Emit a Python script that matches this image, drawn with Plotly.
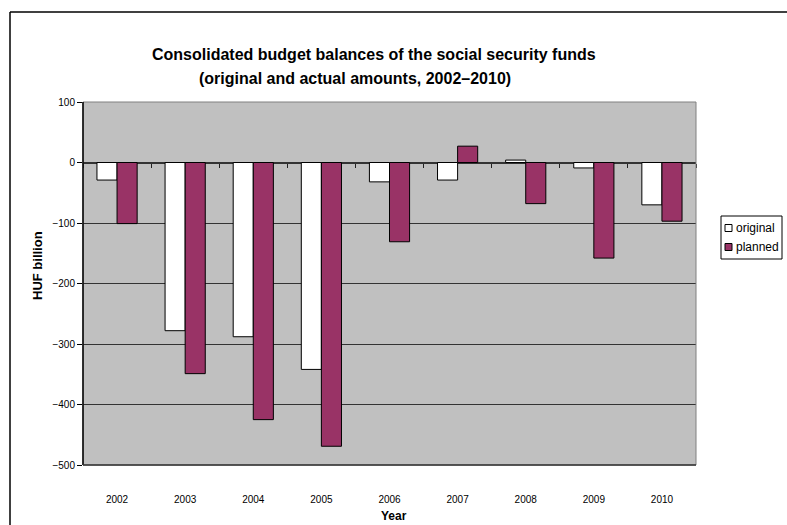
import plotly.graph_objects as go

years = ["2002", "2003", "2004", "2005", "2006", "2007", "2008", "2009", "2010"]
original = [-29, -278, -288, -342, -32, -29, 4, -9, -70]
planned = [-101, -349, -425, -469, -131, 27, -68, -158, -97]
y_ticks = [100, 0, -100, -200, -300, -400, -500]
series_names = ["original", "planned"]
series_fill = ["white", "#993366"]

W, H = 787, 525
# plot area in screen pixels: x 83..696, y 102..465
L, R, T, B = 83, W - 696, 102, H - 465
pw, ph = W - L - R, H - T - B


def px(x):  # pixel x -> paper
    return (x - L) / pw


def py(y):  # pixel y -> paper
    return 1 - (y - T) / ph


FONT = "Liberation Sans, Arial, sans-serif"

fig = go.Figure()
for name, vals, fill in zip(series_names, [original, planned], series_fill):
    fig.add_trace(go.Bar(
        x=years, y=vals, name=name, showlegend=False,
        marker=dict(color=fill, line=dict(color="black", width=1)),
    ))
# invisible helper trace so the zero-line tick axis is drawn
fig.add_trace(go.Scatter(x=years, y=[0] * len(years), xaxis="x2", mode="none",
                         showlegend=False, hoverinfo="skip"))

fig.update_layout(
    width=W, height=H,
    margin=dict(l=L, r=R, t=T, b=B, autoexpand=False),
    paper_bgcolor="white",
    plot_bgcolor="#C0C0C0",
    barmode="group",
    bargap=0.41,
    bargroupgap=0,
    font=dict(family=FONT, color="black", size=10),
    showlegend=False,
    xaxis=dict(
        type="category",
        showgrid=False,
        showline=False,
        ticks="", ticklabelstandoff=27,
        tickfont=dict(size=10, family=FONT),
    ),
    xaxis2=dict(
        type="category", matches="x", overlaying="x", anchor="free",
        position=500 / 600, side="bottom",
        showgrid=False, showline=False, showticklabels=False,
        ticks="outside", ticklen=4, tickcolor="#222222", tickwidth=1,
        tickson="boundaries",
    ),
    yaxis=dict(
        range=[-500, 100],
        tickvals=y_ticks,
        showgrid=True, gridcolor="#333333", gridwidth=1,
        zeroline=True, zerolinecolor="#333333", zerolinewidth=1.5,
        showline=False,
        ticks="outside", ticklen=5, tickcolor="black",
        tickfont=dict(size=10, family=FONT),
    ),
)

# plot-area frame: gray top/right, dark left/bottom
fig.add_shape(type="rect", xref="paper", yref="paper", x0=0, x1=1, y0=0, y1=1,
              line=dict(color="#808080", width=1), layer="above")
fig.add_shape(type="line", xref="paper", yref="paper", x0=0, x1=0, y0=0, y1=1,
              line=dict(color="black", width=1.5), layer="above")
fig.add_shape(type="line", xref="paper", yref="paper", x0=0, x1=1, y0=0, y1=0,
              line=dict(color="#333333", width=1.5), layer="above")

# outer chart border (top and left edges; right/bottom run off the picture)
fig.add_shape(type="line", xref="paper", yref="paper",
              x0=px(10), x1=px(800), y0=py(12), y1=py(12),
              line=dict(color="black", width=1.5))
fig.add_shape(type="line", xref="paper", yref="paper",
              x0=px(10), x1=px(10), y0=py(12), y1=py(540),
              line=dict(color="black", width=1.5))

# legend (compact, Excel style)
fig.add_shape(type="rect", xref="paper", yref="paper",
              x0=px(721), x1=px(782), y0=py(259), y1=py(216),
              line=dict(color="black", width=1), fillcolor="white")
for i, (name, fill) in enumerate(zip(series_names, series_fill)):
    cy = 228 + 19 * i
    fig.add_shape(type="rect", xref="paper", yref="paper",
                  x0=px(725), x1=px(732), y0=py(cy + 3.5), y1=py(cy - 3.5),
                  line=dict(color="black", width=1), fillcolor=fill)
    fig.add_annotation(text=name, xref="paper", yref="paper",
                       x=px(734), y=py(cy), xanchor="left", yanchor="middle",
                       showarrow=False, font=dict(size=12, family=FONT))

fig.add_annotation(text="<b>Consolidated budget balances of the social security funds</b>",
                   xref="paper", yref="paper", x=px(150), y=py(55), showarrow=False,
                   xanchor="left", yanchor="middle", font=dict(size=16, family=FONT))
fig.add_annotation(text="<b>(original and actual amounts, 2002–2010)</b>",
                   xref="paper", yref="paper", x=px(197), y=py(79), showarrow=False,
                   xanchor="left", yanchor="middle", font=dict(size=16, family=FONT))
fig.add_annotation(text="<b>HUF billion</b>", textangle=-90,
                   xref="paper", yref="paper", x=px(37), y=py(266), showarrow=False,
                   xanchor="center", yanchor="middle", font=dict(size=13, family=FONT))
fig.add_annotation(text="<b>Year</b>",
                   xref="paper", yref="paper", x=px(394), y=py(516), showarrow=False,
                   xanchor="center", yanchor="middle", font=dict(size=12, family=FONT))

fig.write_html(
    "out.html",
    config={"displayModeBar": False},
    post_script=(
        "document.body.style.margin='0';"
        "document.documentElement.style.overflow='hidden';"
        "document.body.style.overflow='hidden';"
    ),
)
